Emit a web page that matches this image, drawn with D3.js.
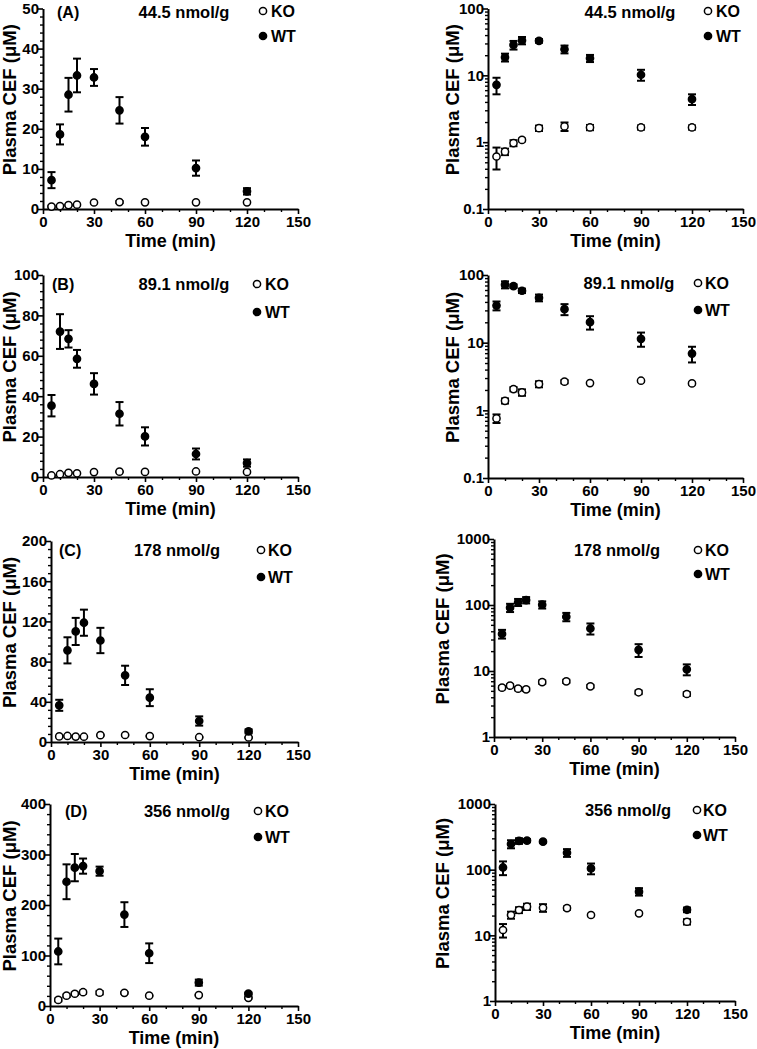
<!DOCTYPE html>
<html>
<head>
<meta charset="utf-8">
<script src="https://cdn.jsdelivr.net/npm/d3@7"></script>
<style>
  html, body { margin: 0; padding: 0; background: #fff; }
  svg { display: block; }
  text { font-family: "Liberation Sans", Arial, sans-serif; font-weight: bold; fill: #000; }
</style>
</head>
<body>
<svg id="chart" width="757" height="1049"></svg>
<script>
// ---------------- data ----------------
const times = [5, 10, 15, 20, 30, 45, 60, 90, 120];

const panelLabels = ["(A)", "(B)", "(C)", "(D)"];
const doseLabels = ["44.5 nmol/g", "89.1 nmol/g", "178 nmol/g", "356 nmol/g"];
const seriesNames = ["KO", "WT"];

const wtA    = [7.2, 18.6, 28.5, 33.3, 32.8, 24.6, 18.0, 10.2, 4.4];
const wtAErr = [2.0, 2.5, 4.2, 4.2, 2.1, 3.3, 2.2, 1.9, 0.8];
const koA    = [0.61, 0.72, 0.97, 1.08, 1.62, 1.72, 1.66, 1.66, 1.66];
const koAErr = [0.22, 0.08, 0.10, 0.05, 0.15, 0.25, 0.15, 0.12, 0.12];

const wtB    = [35.3, 72.0, 68.4, 58.5, 46.1, 31.3, 20.1, 11.4, 6.9];
const wtBErr = [5.3, 8.6, 4.3, 4.4, 5.3, 5.8, 4.5, 2.7, 1.8];
const koB    = [0.76, 1.38, 2.06, 1.84, 2.44, 2.65, 2.53, 2.74, 2.50];
const koBErr = [0.11, 0.12, 0.15, 0.20, 0.25, 0.15, 0.08, 0.08, 0.08];

const wtC    = [36.5, 91.2, 110, 118.7, 101, 66.3, 44.1, 20.9, 10.6];
const wtCErr = [5.5, 13, 13.5, 13, 12.6, 9.6, 8.4, 4.6, 2.0];
const koC    = [5.59, 6.0, 5.4, 5.27, 6.8, 6.97, 5.86, 4.76, 4.48];
const koCErr = [0.3, 0.3, 0.3, 0.3, 0.4, 0.4, 0.3, 0.3, 0.3];

const wtD    = [108, 246, 274, 277, 267, 181, 104.5, 46.3, 24.5];
const wtDErr = [25.5, 34.5, 27, 15, 9, 24.5, 19.5, 6, 2];
const koD    = [12.05, 20.4, 24.3, 27.3, 26.3, 26, 20.4, 21.6, 16.1];
const koDErr = [2.8, 2.5, 2.5, 3, 3.5, 1.5, 0.8, 0.8, 1.5];

const xTicks = [0, 30, 60, 90, 120, 150];
const xMinorStep = 10;
const linYTicks = [
  [0, 10, 20, 30, 40, 50],
  [0, 20, 40, 60, 80, 100],
  [0, 40, 80, 120, 160, 200],
  [0, 100, 200, 300, 400]
];
const linMinorStep = [2, 4, 8, 20];
const logYTicks = [
  [0.1, 1, 10, 100],
  [0.1, 1, 10, 100],
  [1, 10, 100, 1000],
  [1, 10, 100, 1000]
];
const logYLabels = [
  ["0.1", "1", "10", "100"],
  ["0.1", "1", "10", "100"],
  ["1", "10", "100", "1000"],
  ["1", "10", "100", "1000"]
];
const yTitle = "Plasma CEF (\u03BCM)";
const xTitle = "Time (min)";

const wtSeries = [wtA, wtB, wtC, wtD];
const wtErrSeries = [wtAErr, wtBErr, wtCErr, wtDErr];
const koSeries = [koA, koB, koC, koD];
const koErrSeries = [koAErr, koBErr, koCErr, koDErr];

// ---------------- layout (pixels) ----------------
const layout = [
  { lin: {x0: 43, x1: 298, y0: 8.5, y1: 209}, log: {x0: 488, x1: 743, y0: 8.5, y1: 209},
    linText: {lx: 57, ly: 12, dx: 184, cx: 263, tx: 271, ky: 11, wy: 36},
    logText: {dx: 630, dy: 12, cx: 708, tx: 716, ky: 11, wy: 36}, logTitleX: 453 },
  { lin: {x0: 43, x1: 298, y0: 275, y1: 477}, log: {x0: 488, x1: 743, y0: 275, y1: 478},
    linText: {lx: 52, ly: 284, dx: 184, cx: 257, tx: 265, ky: 284, wy: 312},
    logText: {dx: 629, dy: 283, cx: 698, tx: 705, ky: 283, wy: 310}, logTitleX: 453 },
  { lin: {x0: 51, x1: 298, y0: 541, y1: 742}, log: {x0: 494, x1: 735, y0: 539, y1: 737},
    linText: {lx: 59, ly: 550, dx: 177, cx: 261, tx: 268, ky: 550, wy: 577},
    logText: {dx: 617, dy: 550, cx: 698, tx: 705, ky: 550, wy: 574}, logTitleX: 443 },
  { lin: {x0: 50, x1: 298, y0: 804, y1: 1006}, log: {x0: 495, x1: 735, y0: 804, y1: 1001},
    linText: {lx: 65, ly: 811, dx: 187, cx: 258, tx: 265, ky: 811, wy: 837},
    logText: {dx: 628, dy: 810, cx: 697, tx: 703, ky: 810, wy: 835}, logTitleX: 443 }
];

const svg = d3.select("#chart");
svg.append("rect").attr("width", 757).attr("height", 1049).attr("fill", "#fff");

const R = 3.6;
const CAP = 4;

function styleAxis(g) {
  g.select(".domain").attr("stroke", "#000").attr("stroke-width", 2);
  g.selectAll(".tick line").attr("stroke", "#000").attr("stroke-width", 1.6);
  g.selectAll(".tick text").style("font-size", "15px").style("font-weight", "bold")
    .style("font-family", '"Liberation Sans", Arial, sans-serif').attr("fill", "#000");
}

function drawPanel(i, isLog) {
  const box = isLog ? layout[i].log : layout[i].lin;
  const x = d3.scaleLinear().domain([0, 150]).range([box.x0, box.x1]);
  let y;
  if (isLog) {
    const t = logYTicks[i];
    y = d3.scaleLog().domain([t[0], t[t.length - 1]]).range([box.y1, box.y0]);
  } else {
    const t = linYTicks[i];
    y = d3.scaleLinear().domain([0, t[t.length - 1]]).range([box.y1, box.y0]);
  }
  const g = svg.append("g");

  // minor ticks
  const xMinor = d3.range(0, 150 + 0.001, xMinorStep).filter(v => xTicks.indexOf(v) < 0);
  g.append("g").attr("transform", `translate(0,${box.y1})`)
    .call(d3.axisBottom(x).tickValues(xMinor).tickSize(3).tickFormat(""))
    .call(a => { a.select(".domain").remove(); a.selectAll("line").attr("stroke", "#000").attr("stroke-width", 1.4); });

  let yMinor;
  if (isLog) {
    const t = logYTicks[i];
    yMinor = [];
    for (let k = 0; k < t.length - 1; k++) for (let m = 2; m <= 9; m++) yMinor.push(t[k] * m);
  } else {
    const t = linYTicks[i];
    yMinor = d3.range(0, t[t.length - 1] + 0.001, linMinorStep[i]).filter(v => t.indexOf(v) < 0);
  }
  g.append("g").attr("transform", `translate(${box.x0},0)`)
    .call(d3.axisLeft(y).tickValues(yMinor).tickSize(3).tickFormat(""))
    .call(a => { a.select(".domain").remove(); a.selectAll("line").attr("stroke", "#000").attr("stroke-width", 1.4); });

  // major axes
  g.append("g").attr("transform", `translate(0,${box.y1})`)
    .call(d3.axisBottom(x).tickValues(xTicks).tickSize(5).tickSizeOuter(0).tickPadding(2).tickFormat(d3.format("d")))
    .call(styleAxis);

  const yAxis = d3.axisLeft(y).tickValues(isLog ? logYTicks[i] : linYTicks[i]).tickSize(5).tickSizeOuter(0).tickPadding(-1);
  if (isLog) yAxis.tickFormat((d, k) => logYLabels[i][k]);
  else yAxis.tickFormat(d3.format("d"));
  g.append("g").attr("transform", `translate(${box.x0},0)`).call(yAxis).call(styleAxis);

  // titles
  const midY = (box.y0 + box.y1) / 2 - 9;
  const titleX = isLog ? layout[i].logTitleX : 9.5;
  g.append("text").attr("transform", `translate(${titleX},${midY}) rotate(-90)`)
    .attr("text-anchor", "middle").attr("dy", "0.35em").style("font-size", "18.5px").text(yTitle);
  g.append("text").attr("x", (box.x0 + box.x1) / 2).attr("y", box.y1 + 32)
    .attr("text-anchor", "middle").attr("dy", "0.35em").style("font-size", "18px").text(xTitle);

  // annotations
  if (!isLog) {
    const tp = layout[i].linText;
    g.append("text").attr("x", tp.lx).attr("y", tp.ly).attr("dy", "0.35em").style("font-size", "16px").text(panelLabels[i]);
    g.append("text").attr("x", tp.dx).attr("y", tp.ly).attr("dy", "0.35em").attr("text-anchor", "middle").style("font-size", "16.5px").text(doseLabels[i]);
    legend(g, tp.cx, tp.tx, tp.ky, tp.wy);
  } else {
    const tp = layout[i].logText;
    g.append("text").attr("x", tp.dx).attr("y", tp.dy).attr("dy", "0.35em").attr("text-anchor", "middle").style("font-size", "16.5px").text(doseLabels[i]);
    legend(g, tp.cx, tp.tx, tp.ky, tp.wy);
  }

  // data
  const sets = [
    {vals: koSeries[i], errs: koErrSeries[i], fill: "#fff"},
    {vals: wtSeries[i], errs: wtErrSeries[i], fill: "#000"}
  ];
  sets.forEach(s => {
    const pts = times.map((t, k) => ({t, v: s.vals[k], e: s.errs[k]}));
    const lo = d => isLog ? Math.max(d.v - d.e, y.domain()[0]) : Math.max(d.v - d.e, 0);
    const eb = g.append("g").attr("stroke", "#000").attr("stroke-width", 2);
    eb.selectAll("line.v").data(pts).join("line").attr("class", "v")
      .attr("x1", d => x(d.t)).attr("x2", d => x(d.t))
      .attr("y1", d => y(d.v + d.e)).attr("y2", d => y(lo(d)));
    eb.selectAll("line.t").data(pts).join("line").attr("class", "t")
      .attr("x1", d => x(d.t) - CAP).attr("x2", d => x(d.t) + CAP)
      .attr("y1", d => y(d.v + d.e)).attr("y2", d => y(d.v + d.e));
    eb.selectAll("line.b").data(pts).join("line").attr("class", "b")
      .attr("x1", d => x(d.t) - CAP).attr("x2", d => x(d.t) + CAP)
      .attr("y1", d => y(lo(d))).attr("y2", d => y(lo(d)));
    g.append("g").selectAll("circle").data(pts).join("circle")
      .attr("cx", d => x(d.t)).attr("cy", d => y(d.v)).attr("r", R)
      .attr("fill", s.fill).attr("stroke", "#000").attr("stroke-width", 1.5);
  });
}

function legend(g, cx, tx, ky, wy) {
  g.append("circle").attr("cx", cx).attr("cy", ky).attr("r", R).attr("fill", "#fff").attr("stroke", "#000").attr("stroke-width", 1.5);
  g.append("text").attr("x", tx).attr("y", ky).attr("dy", "0.35em").style("font-size", "16px").text(seriesNames[0]);
  g.append("circle").attr("cx", cx).attr("cy", wy).attr("r", R).attr("fill", "#000").attr("stroke", "#000").attr("stroke-width", 1.5);
  g.append("text").attr("x", tx).attr("y", wy).attr("dy", "0.35em").style("font-size", "16px").text(seriesNames[1]);
}

for (let i = 0; i < 4; i++) {
  drawPanel(i, false);
  drawPanel(i, true);
}
</script>
</body>
</html>
